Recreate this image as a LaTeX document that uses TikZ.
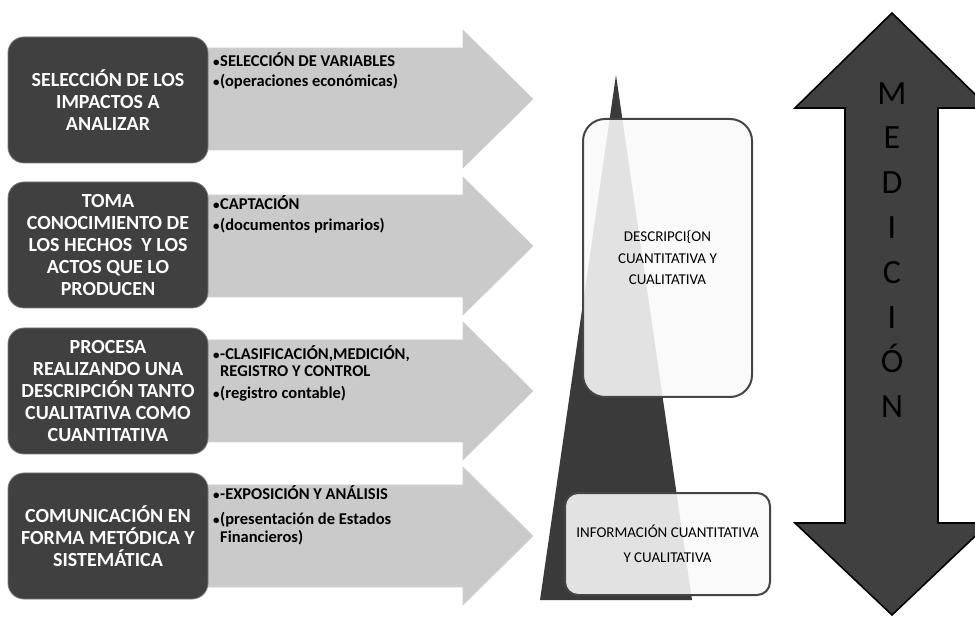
\documentclass[tikz,border=0pt]{standalone}
\usepackage{fontspec}
\setmainfont{Carlito}
\definecolor{darkbox}{HTML}{404040}
\definecolor{arrowgray}{HTML}{CACACA}
\definecolor{trifill}{HTML}{3A3A3A}
\definecolor{midedge}{HTML}{454545}
\newcommand\bul{\makebox[7pt][l]{\fontsize{13}{13}\selectfont •}}
\newcommand\ind{\hspace*{7pt}}
\tikzset{
  leftbox/.style={fill=darkbox, draw=darkbox!70!white, line width=0.8pt,
    rounded corners=16pt, text=white, font=\bfseries\fontsize{20}{22}\selectfont,
    align=center, minimum width=200pt, minimum height=126pt, inner sep=0pt},
  bodytext/.style={font=\bfseries\fontsize{16.5}{18}\selectfont,
    inner sep=0pt, anchor=base west},
  grayarrow/.style={fill=arrowgray, draw=arrowgray!85!white, line width=0.6pt},
  midbox/.style={fill=gray!4, fill opacity=0.88, text opacity=1, draw=midedge,
    line width=2pt, align=center, inner sep=0pt,
    font=\fontsize{15}{21.5}\selectfont},
  bigarrow/.style={fill=darkbox, draw=black, line width=1.6pt, line join=miter},
  letter/.style={font=\fontsize{34}{34}\selectfont, anchor=base, inner sep=0pt}
}
\begin{document}
\begin{tikzpicture}[x=1pt,y=-1pt]
\useasboundingbox (0,0) rectangle (975,617);
\clip (0,0) rectangle (975,617);
\fill[white] (0,0) rectangle (975,617);

% gray arrows
\foreach \t in {30,177,322,467}{
  \path[grayarrow] (200,\t+18) -- (463,\t+18) -- (463,\t) -- (533,\t+69)
    -- (463,\t+138) -- (463,\t+120) -- (200,\t+120) -- cycle;
}

% dark boxes
\node[leftbox] (b1) at (108,100) {SELECCIÓN DE LOS\\IMPACTOS A\\ANALIZAR};
\node[leftbox] (b2) at (108,245) {TOMA\\CONOCIMIENTO DE\\LOS HECHOS\ \ Y LOS\\ACTOS QUE LO\\PRODUCEN};
\node[leftbox] (b3) at (108,391) {PROCESA\\REALIZANDO UNA\\DESCRIPCIÓN TANTO\\CUALITATIVA COMO\\CUANTITATIVA};
\node[leftbox] (b4) at (108,536) {COMUNICACIÓN EN\\FORMA METÓDICA Y\\SISTEMÁTICA};

% body texts
\node[bodytext] (t1a) at (213,67) {\bul SELECCIÓN DE VARIABLES};
\node[bodytext] (t1b) at (213,87) {\bul(operaciones económicas)};
\node[bodytext] (t2a) at (213,210) {\bul CAPTACIÓN};
\node[bodytext] (t2b) at (213,231) {\bul(documentos primarios)};
\node[bodytext] (t3a) at (213,360) {\bul-CLASIFICACIÓN,MEDICIÓN,};
\node[bodytext] (t3b) at (213,377) {\ind REGISTRO Y CONTROL};
\node[bodytext] (t3c) at (213,399) {\bul(registro contable)};
\node[bodytext] (t4a) at (213,500) {\bul-EXPOSICIÓN Y ANÁLISIS};
\node[bodytext] (t4b) at (213,524) {\bul(presentación de Estados};
\node[bodytext] (t4c) at (213,542) {\ind Financieros)};

% central triangle
\fill[trifill] (616,75) -- (692,600) -- (540,600) -- cycle;

% middle boxes
\node[midbox, rounded corners=22pt, minimum width=169pt, minimum height=278pt]
  (desc) at (667.5,258) {DESCRIPCI\{ON\\CUANTITATIVA Y\\CUALITATIVA};
\node[midbox, rounded corners=13pt, minimum width=205pt, minimum height=102pt,
  font=\fontsize{15}{25}\selectfont]
  (info) at (667.5,544) {INFORMACIÓN CUANTITATIVA\\Y CUALITATIVA};

% double arrow
\path[bigarrow] (892,13) -- (989,108) -- (938,108) -- (938,523) -- (989,523)
  -- (892,615) -- (795,523) -- (845,523) -- (845,108) -- (795,108) -- cycle;
\node[letter] (m1) at (892,105) {M};
\node[letter] (m2) at (892,149) {E};
\node[letter] (m3) at (892,194) {D};
\node[letter] (m4) at (892,239) {I};
\node[letter] (m5) at (892,284) {C};
\node[letter] (m6) at (892,329) {I};
\node[letter] (m7) at (892,373) {Ó};
\node[letter] (m8) at (892,418) {N};
\end{tikzpicture}
\end{document}
